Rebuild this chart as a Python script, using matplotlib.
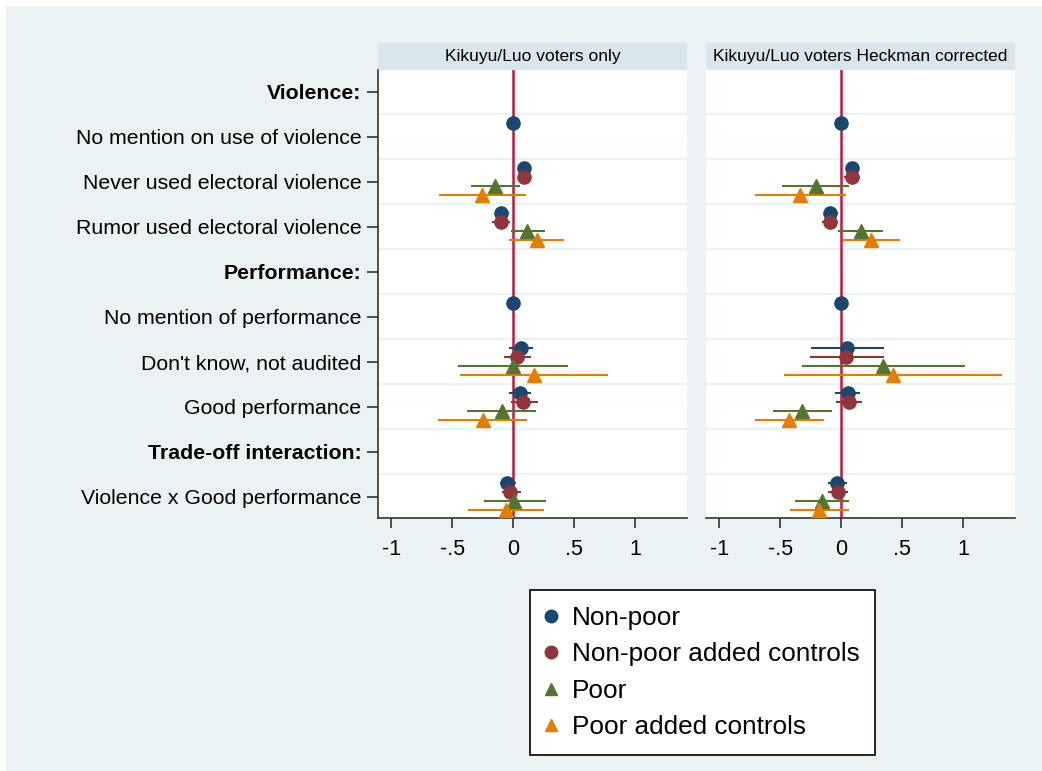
import numpy as np
import matplotlib.pyplot as plt
from matplotlib.patches import Rectangle
from matplotlib.lines import Line2D

plt.rcParams['font.family'] = ['Liberation Sans', 'DejaVu Sans']

nan = np.nan

rows = ["Violence:", "No mention on use of violence", "Never used electoral violence",
        "Rumor used electoral violence", "Performance:", "No mention of performance",
        "Don't know, not audited", "Good performance", "Trade-off interaction:",
        "Violence x Good performance"]
headers = [0, 4, 8]

series = ["Non-poor", "Non-poor added controls", "Poor", "Poor added controls"]
colors = ["#1A476F", "#90353B", "#55752F", "#E37E00"]
markers = ["o", "o", "^", "^"]

panel_titles = ["Kikuyu/Luo voters only", "Kikuyu/Luo voters Heckman corrected"]

# (coef, lower, upper) per row
left_nonpoor = [(nan, nan, nan), (0, nan, nan), (0.085, 0.044, 0.139), (-0.098, -0.144, -0.038),
                (nan, nan, nan), (0, nan, nan), (0.063, -0.033, 0.164), (0.052, -0.033, 0.148),
                (nan, nan, nan), (-0.052, -0.109, 0.019)]
left_nonpoor_ctrl = [(nan, nan, nan), (nan, nan, nan), (0.090, 0.036, 0.145), (-0.103, -0.175, -0.030),
                     (nan, nan, nan), (nan, nan, nan), (0.027, -0.074, 0.148), (0.079, -0.019, 0.199),
                     (nan, nan, nan), (-0.025, -0.093, 0.063)]
left_poor = [(nan, nan, nan), (nan, nan, nan), (-0.147, -0.347, 0.057), (0.115, -0.021, 0.257),
             (nan, nan, nan), (nan, nan, nan), (-0.005, -0.454, 0.448), (-0.096, -0.377, 0.183),
             (nan, nan, nan), (0.008, -0.238, 0.265)]
left_poor_ctrl = [(nan, nan, nan), (nan, nan, nan), (-0.257, -0.609, 0.101), (0.194, -0.035, 0.418),
                  (nan, nan, nan), (nan, nan, nan), (0.172, -0.434, 0.773), (-0.246, -0.615, 0.115),
                  (nan, nan, nan), (-0.063, -0.369, 0.249)]

right_nonpoor = [(nan, nan, nan), (0, nan, nan), (0.085, 0.036, 0.148), (-0.090, -0.140, -0.025),
                 (nan, nan, nan), (0, nan, nan), (0.047, -0.249, 0.348), (0.052, -0.052, 0.156),
                 (nan, nan, nan), (-0.038, -0.110, 0.049)]
right_nonpoor_ctrl = [(nan, nan, nan), (nan, nan, nan), (0.088, 0.025, 0.156), (-0.096, -0.162, -0.025),
                      (nan, nan, nan), (nan, nan, nan), (0.041, -0.258, 0.348), (0.063, -0.041, 0.173),
                      (nan, nan, nan), (-0.027, -0.107, 0.052)]
right_poor = [(nan, nan, nan), (nan, nan, nan), (-0.211, -0.488, 0.063), (0.159, -0.025, 0.345),
              (nan, nan, nan), (nan, nan, nan), (0.340, -0.321, 1.016), (-0.323, -0.564, -0.077),
              (nan, nan, nan), (-0.156, -0.378, 0.066)]
right_poor_ctrl = [(nan, nan, nan), (nan, nan, nan), (-0.337, -0.704, 0.038), (0.247, 0.011, 0.485),
                   (nan, nan, nan), (nan, nan, nan), (0.422, -0.471, 1.315), (-0.427, -0.710, -0.142),
                   (nan, nan, nan), (-0.181, -0.419, 0.060)]

panels = [[left_nonpoor, left_nonpoor_ctrl, left_poor, left_poor_ctrl],
          [right_nonpoor, right_nonpoor_ctrl, right_poor, right_poor_ctrl]]

offsets = [-0.3, -0.1, 0.1, 0.3]
xticks = [-1, -0.5, 0, 0.5, 1]
xticklabels = ["-1", "-.5", "0", ".5", "1"]

bg = "#EAF2F3"
strip = "#D9E6EB"

fig = plt.figure(figsize=(10.42, 7.71), dpi=100)
fig.patch.set_facecolor("white")
fig.patches.append(Rectangle((6 / 1042, 0), 1, 1 - 6 / 771, transform=fig.transFigure,
                             facecolor=bg, edgecolor="none", zorder=-10))

lefts = [378 / 1042, 706 / 1042]
w = (687 - 378) / 1042
bottom = 1 - 518 / 771
h = (518 - 70) / 771
ypos = np.arange(len(rows))

for p, (left, data) in enumerate(zip(lefts, panels)):
    ax = fig.add_axes([left, bottom, w, h])
    ax.set_facecolor("white")
    ax.set_xlim(-1.11, 1.425)
    ax.set_ylim(9.47, -0.48)
    for g in np.arange(0.5, len(rows) - 1, 1):
        ax.axhline(g, color=bg, lw=1.5, zorder=1)
    ax.axvline(0, color="#C4163F", lw=1.8, zorder=2)

    for s, ser in enumerate(data):
        arr = np.array(ser, dtype=float)
        y = ypos + offsets[s]
        ax.hlines(y, arr[:, 1], arr[:, 2], color=colors[s], lw=1.5, zorder=3)
        ax.plot(arr[:, 0], y, linestyle="none", marker=markers[s], color=colors[s],
                markersize=9.5, zorder=4)

    for sp in ["top", "right"]:
        ax.spines[sp].set_visible(False)
    ax.spines["bottom"].set_color("#333333")
    ax.spines["bottom"].set_linewidth(1.2)
    ax.set_xticks(xticks)
    ax.set_xticklabels(xticklabels, fontsize=15.5)
    ax.tick_params(axis="x", length=7, width=1.2, color="#333333", pad=8)
    if p == 0:
        ax.spines["left"].set_color("#333333")
        ax.spines["left"].set_linewidth(1.2)
        ax.set_yticks(ypos)
        ax.set_yticklabels(rows, fontsize=15.3)
        for i, lab in enumerate(ax.get_yticklabels()):
            if i in headers:
                lab.set_fontweight("bold")
        ax.tick_params(axis="y", length=8, width=1.2, color="#333333", pad=4)
    else:
        ax.spines["left"].set_visible(False)
        ax.set_yticks([])

    ax.add_patch(Rectangle((0, 1), 1, 27 / 448, transform=ax.transAxes, facecolor=strip,
                           edgecolor="none", clip_on=False))
    ax.text(0.5, 1 + 13.5 / 448, panel_titles[p], transform=ax.transAxes, ha="center",
            va="center", fontsize=12.5)

handles = [Line2D([], [], linestyle="none", marker=markers[s], color=colors[s], markersize=9)
           for s in range(4)]
leg = fig.legend(handles, series, loc="upper left", bbox_to_anchor=(530 / 1042, 1 - 590 / 771),
                 frameon=True, fancybox=False, framealpha=1, fontsize=18.8, handlelength=0.4,
                 handletextpad=0.6, labelspacing=0.48, borderpad=0.6, borderaxespad=0)
leg.get_frame().set_edgecolor("black")
leg.get_frame().set_linewidth(1.2)

fig.savefig("out.png", dpi=100)
